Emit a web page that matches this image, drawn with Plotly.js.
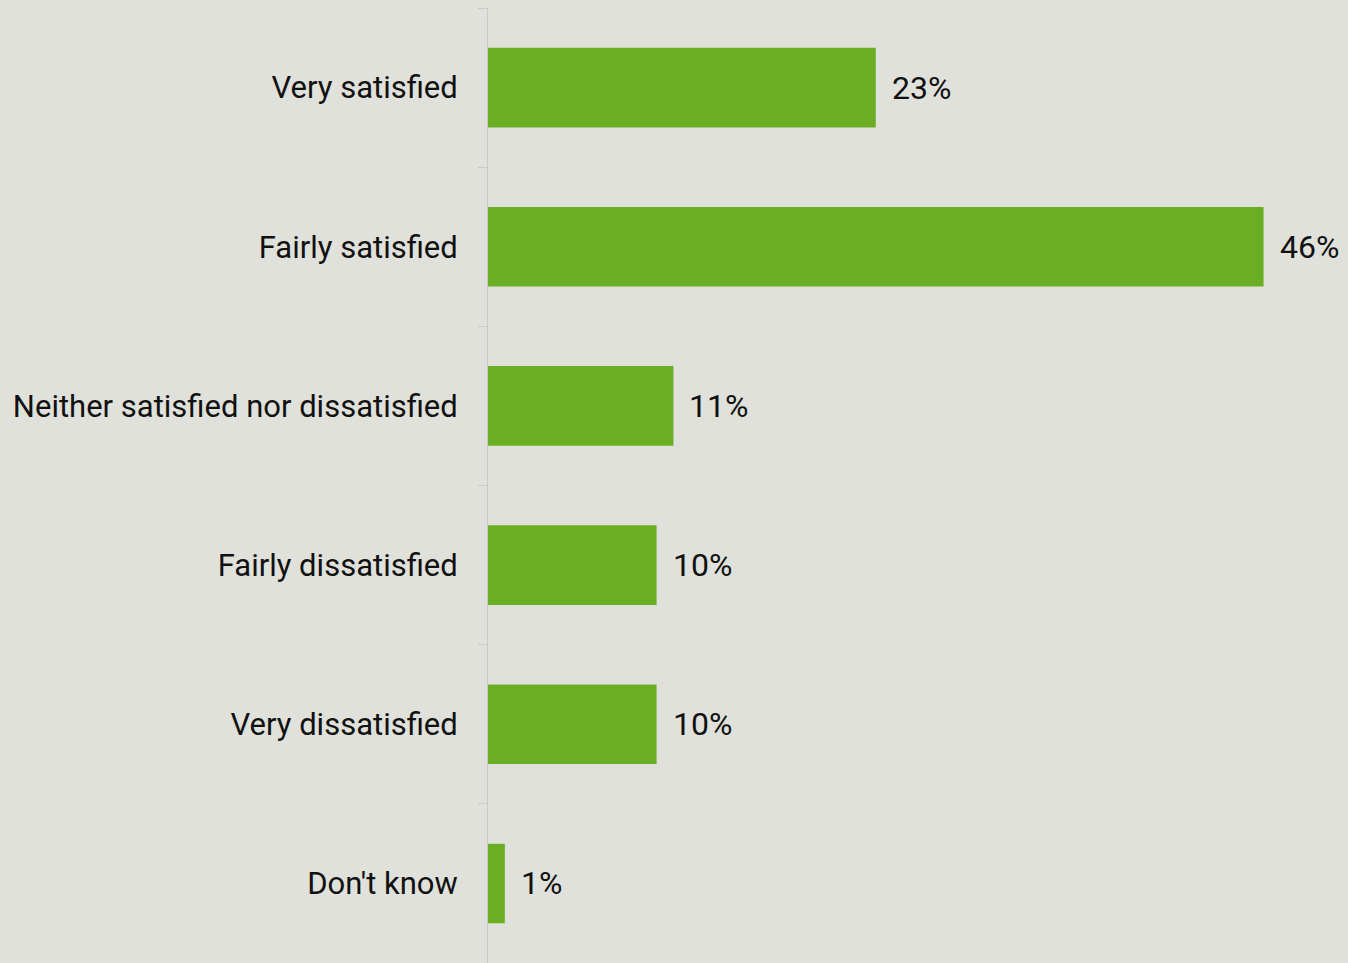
<!DOCTYPE html>
<html>
<head>
<meta charset="utf-8">
<script src="https://cdn.plot.ly/plotly-3.0.1.min.js"></script>
<style>
html,body{margin:0;padding:0;background:#E0E1DA;}
#chart{width:1348px;height:963px;}
</style>
</head>
<body>
<div id="chart"></div>
<script>
const categories = ["Very satisfied", "Fairly satisfied", "Neither satisfied nor dissatisfied", "Fairly dissatisfied", "Very dissatisfied", "Don't know"];
const values = [23, 46, 11, 10, 10, 1];
const valueLabels = values.map(v => v + "%");

const FONT = "Roboto, 'Liberation Sans', Arial, sans-serif";

const trace = {
  type: "bar",
  orientation: "h",
  x: values,
  y: categories,
  marker: {color: "#6AAF23"},
  hoverinfo: "none"
};

const annotations = values.map((v, i) => ({
  x: v, y: categories[i], xref: "x", yref: "y",
  text: valueLabels[i], showarrow: false,
  xanchor: "left", yanchor: "middle", xshift: 14,
  font: {family: FONT, size: 32, color: "#111"}
}));

const layout = {
  width: 1348, height: 963,
  margin: {l: 488, r: 17, t: 8, b: 0, pad: 0},
  paper_bgcolor: "#E0E1DA",
  plot_bgcolor: "#E0E1DA",
  bargap: 0.5,
  showlegend: false,
  font: {family: FONT, size: 31, color: "#111"},
  xaxis: {range: [0, 50], visible: false, fixedrange: true},
  yaxis: {
    type: "category",
    autorange: "reversed",
    showline: true, linecolor: "#C9C9C9", linewidth: 1,
    ticks: "outside", ticklen: 9, tickcolor: "#C9C9C9", tickwidth: 1,
    tickson: "boundaries",
    ticklabelstandoff: 23,
    showgrid: false, zeroline: false,
    tickfont: {family: FONT, size: 31, color: "#111"},
    fixedrange: true
  },
  annotations: annotations
};

Plotly.newPlot("chart", [trace], layout, {displayModeBar: false, staticPlot: true});
</script>
</body>
</html>
